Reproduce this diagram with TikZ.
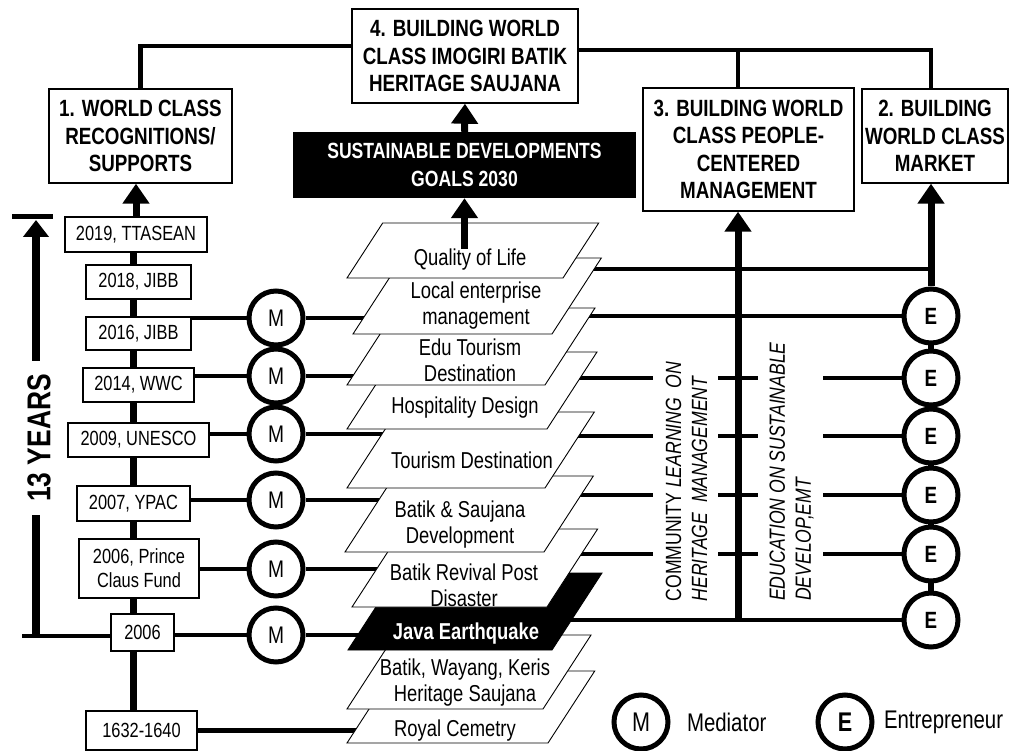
\documentclass[tikz,border=0pt]{standalone}
\usepackage{fontspec}
\setmainfont{Liberation Sans}[FakeStretch=0.8]
\usetikzlibrary{arrows.meta, positioning, backgrounds}
\newcommand{\fsz}[2]{\fontsize{#1}{#2}\selectfont}
% one slanted layer: [style] bottom-left x, bottom y, width, height
\newcommand{\slab}[5][]{\filldraw[layer,#1] (#2,#3) -- ++(#4,0) -- ++({0.649*#5},-#5) -- ++(-#4,0) -- cycle;}
\tikzstyle{goal} = [rectangle, draw=black, line width=1.4pt, fill=white, align=center, inner sep=2pt, font=\fsz{23.5}{27.5}\bfseries]
\tikzstyle{blackbox} = [rectangle, fill=black, text=white, align=center, inner sep=0pt, font=\fsz{22}{28}\bfseries]
\tikzstyle{year} = [rectangle, draw=black, line width=1.2pt, fill=white, align=center, inner sep=0pt, font=\fsz{20.5}{24}]
\tikzstyle{layer} = [draw=black, line width=0.9pt, fill=white]
\tikzstyle{layertext} = [align=center, inner sep=0pt, font=\fsz{23}{26}]
\tikzstyle{actor} = [circle, draw=black, line width=5pt, fill=white, minimum size=54pt, inner sep=0pt, font=\fsz{24}{24}]
\tikzstyle{entre} = [actor, font=\fsz{23.5}{24}\bfseries]
\tikzstyle{vtext} = [rotate=90, align=left, inner sep=0pt, font=\fsz{22}{26}]
\tikzstyle{row} = [line width=4.5pt]
\tikzstyle{spine} = [line width=7pt]
\tikzstyle{arrow} = [line width=7pt, -{Triangle[width=26pt,length=20pt]}]

\begin{document}
\begin{tikzpicture}[x=1pt, y=-1pt]
\useasboundingbox (0,0) rectangle (1010,751);

% goals
\node (box4) [goal, minimum width=226pt, minimum height=94pt] at (465,56) {4. BUILDING WORLD\\CLASS IMOGIRI BATIK\\HERITAGE SAUJANA};
\node (box1) [goal, minimum width=183pt, minimum height=94pt] at (140.5,136) {1. WORLD CLASS\\RECOGNITIONS/\\SUPPORTS};
\node (box3) [goal, minimum width=211pt, minimum height=123pt] at (748.5,149.5) {3. BUILDING WORLD\\CLASS PEOPLE-\\CENTERED\\MANAGEMENT};
\node (box2) [goal, minimum width=146pt, minimum height=94pt] at (935,136) {2. BUILDING\\WORLD CLASS\\MARKET};
\node (sdg) [blackbox, minimum width=343pt, minimum height=66pt] at (464.5,165) {SUSTAINABLE DEVELOPMENTS\\GOALS 2030};

% timeline
\node (b2019) [year, minimum width=142pt, minimum height=35pt] at (136,234.5) {2019, TTASEAN};
\node (b2018) [year, minimum width=105pt, minimum height=34pt] at (138.5,282) {2018, JIBB};
\node (b2016) [year, minimum width=105pt, minimum height=33pt] at (138.5,333.5) {2016, JIBB};
\node (b2014) [year, minimum width=111pt, minimum height=34pt] at (138.5,385) {2014, WWC};
\node (b2009) [year, minimum width=141pt, minimum height=34pt] at (138.5,440) {2009, UNESCO};
\node (b2007) [year, minimum width=113pt, minimum height=35pt] at (133.5,503.5) {2007, YPAC};
\node (bpc) [year, minimum width=120pt, minimum height=59pt] at (139,568.5) {2006, Prince\\Claus Fund};
\node (b2006) [year, minimum width=63pt, minimum height=37pt] at (142.5,632.5) {2006};
\node (b1632) [year, minimum width=111pt, minimum height=39pt] at (141.5,730.5) {1632-1640};

\node (yrs) [rotate=90, inner xsep=13pt, inner ysep=0pt, font=\fsz{33}{33}\bfseries] at (39,438) {13 YEARS};
\coordinate (ytop) at (36,217);
\coordinate (ybot) at (36,636);

% mediators
\node (m1) [actor] at (276,318) {M};
\node (m2) [actor] at (276,376) {M};
\node (m3) [actor] at (276,434) {M};
\node (m4) [actor] at (276,500) {M};
\node (m5) [actor] at (276,569) {M};
\node (m6) [actor] at (276,635) {M};

% stacked layers, bottom first
\slab{347}{743}{201}{72}
\node (royal) [layertext] at (455,731) {Royal Cemetry};
\slab{347}{709}{196}{74}
\node (bwk) [layertext] at (465,682.5) {Batik, Wayang, Keris\\Heritage Saujana};
\slab[fill=black]{348}{650}{204}{77}
\node (java) [layertext, text=white, font=\fsz{23}{26}\bfseries] at (466,634) {Java Earthquake};
\slab{352}{607}{195}{78}
\node (revival) [layertext] at (464,585) {Batik Revival Post\\Disaster};
\slab{345}{552}{199}{76}
\node (batsau) [layertext] at (460,525) {Batik \& Saujana\\Development};
\slab{347}{488}{198}{76}
\node (tour) [layertext] at (472,460) {Tourism Destination};
\slab{347}{429}{200}{77}
\node (hosp) [layertext] at (465,408) {Hospitality Design};
\slab{347}{385}{198}{77}
\node (edu) [layertext] at (470,360) {Edu Tourism\\Destination};
\slab{353}{334}{199}{76}
\node (local) [layertext] at (476,306) {Local enterprise\\management};
\slab{347}{278}{216}{55}
\node (qual) [layertext] at (470,260) {Quality of Life};

% entrepreneurs
\node (e1) [entre] at (931,316) {E};
\node (e2) [entre] at (931,378) {E};
\node (e3) [entre] at (931,436) {E};
\node (e4) [entre] at (931,495) {E};
\node (e5) [entre] at (931,554) {E};
\node (e6) [entre] at (931,620) {E};

\coordinate (cA) at (653,0);
\coordinate (cB) at (718,0);
\coordinate (cC) at (758,0);
\coordinate (cD) at (823,0);
\coordinate (colM) at (738,0);

\node (comm) [vtext] at (686.5,481.5) {COMMUNITY \textit{LEARNING\ \ ON}\\\textit{HERITAGE\ \ MANAGEMENT}};
\node (edusd) [vtext] at (791.5,471.5) {\textit{EDUCATION ON SUSTAINABLE}\\\textit{DEVELOP,EMT}};

% legend
\node (lm) [actor, font=\fsz{27}{27}] at (641,722) {M};
\node (lmt) [right=13pt of lm, font=\fsz{25.5}{26}] {Mediator};
\node (le) [entre, font=\fsz{27}{27}\bfseries] at (845,722) {E};
\node (let) [right=6pt of le, font=\fsz{25.5}{26}] {Entrepreneur};

\begin{scope}[on background layer]
% timeline spine
\draw[spine] (b1632 -| b2007) -- (b2019 -| b2007);
% mediator rows
\foreach \b/\m/\p in {b2016/m1/local, b2014/m2/edu, b2009/m3/tour, b2007/m4/batsau, bpc/m5/revival, b2006/m6/java}
  \draw[row] (\b.east |- \m) -- (\m) -- (\m -| \p.center);
\draw[row] (b1632.east) -- (b1632.east -| royal.center);
% entrepreneur rows
\draw[row] ([yshift=-9pt]qual.center) coordinate (qr) -- (qr -| e1);
\draw[row] (local.center |- e1) -- (e1);
\foreach \p/\e in {edu/e2, tour/e3, batsau/e4, revival/e5} {
  \draw[row] (\p.center |- \e) -- (cA |- \e);
  \draw[row] (cB |- \e) -- (cC |- \e);
  \draw[row] (cD |- \e) -- (\e);
}
\draw[row] (java.center |- e6) -- (e6);
\draw[line width=6pt] (e1) -- (e6);
% top links
\draw[line width=4.5pt] (box4.175) -| (box1.north);
\draw[line width=4.5pt] (box4.3) -| (e1 |- box2.north);
\draw[line width=4.5pt] (colM |- box4.3) -- (colM |- box3.north);
% 13 years
\draw[line width=5pt] ([xshift=-24pt]ytop) -- ([xshift=17pt]ytop);
\draw[line width=8pt] (yrs.west -| ybot) -- (ybot);
\draw[row] ([xshift=-14pt]ybot) -- (ybot -| b2006.west);
\end{scope}

\draw[line width=8pt, -{Triangle[width=25pt,length=17pt]}] (yrs.east -| ytop) -- ([yshift=-3pt]ytop);
\draw[arrow] (b2019.north) -- (b2019.north |- box1.south);
\draw[arrow] (qual.north -| sdg.south) -- (sdg.south);
\draw[arrow] (sdg.north) -- (box4.south);
\draw[arrow] (colM |- e6) -- (colM |- box3.south);
\draw[arrow] (e1.north) -- (e1 |- box2.south);

\end{tikzpicture}
\end{document}
